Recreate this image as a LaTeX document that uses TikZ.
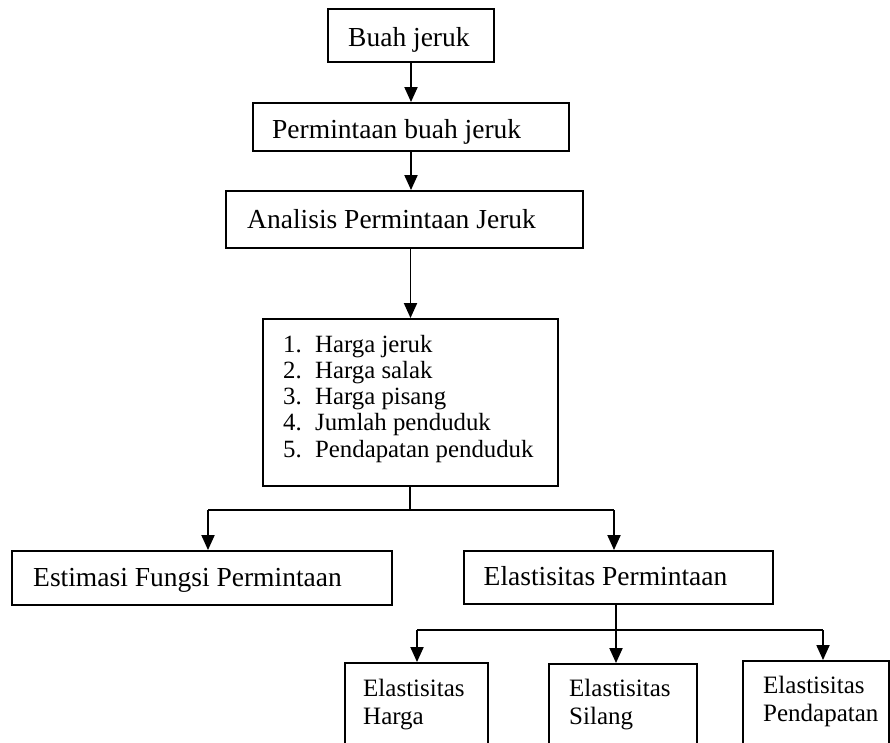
\documentclass[tikz,border=0pt]{standalone}
\usepackage{fontspec}
\setmainfont{Liberation Serif}
\usetikzlibrary{arrows.meta}
\begin{document}
\begin{tikzpicture}[x=1pt,y=-1pt,
  box/.style={draw,line width=1.9pt,rectangle,inner sep=0pt},
  lbl/.style={anchor=base west,inner sep=0pt,font=\fontsize{27.5}{30}\selectfont},
  slbl/.style={anchor=base west,inner sep=0pt},
  conn/.style={line width=1.9pt},
  arr/.style={conn,-{Triangle[width=13pt,length=15pt]}}]
\useasboundingbox (0,0) rectangle (890,742);
\clip (0,0) rectangle (890,742);
% boxes
\node[box,minimum width=166pt,minimum height=53pt] (b1) at (411,35.5) {};
\node[box,minimum width=316pt,minimum height=48pt] (b2) at (411,127) {};
\node[box,minimum width=357pt,minimum height=57pt] (b3) at (404.5,219.5) {};
\node[box,minimum width=295pt,minimum height=167pt] (b4) at (410.5,402.5) {};
\node[box,minimum width=379.5pt,minimum height=54pt] (b5) at (202,578) {};
\node[box,minimum width=309pt,minimum height=53pt] (b6) at (618.5,577.5) {};
\node[box,minimum width=143pt,minimum height=110pt] (b7) at (416.5,718) {};
\node[box,minimum width=148pt,minimum height=110pt] (b8) at (623,719) {};
\node[box,minimum width=146pt,minimum height=110pt] (b9) at (816,716) {};
% texts
\node[lbl] (t1) at (348,46) {Buah jeruk};
\node[lbl] (t2) at (272,138) {Permintaan buah jeruk};
\node[lbl] (t3) at (247,228) {Analisis Permintaan Jeruk};
\node[slbl] (t4) at (283,352) {\fontsize{24.8}{26.25}\selectfont
  \begin{tabular}[t]{@{}p{32pt}@{}l@{}}
  1. & Harga jeruk\\
  2. & Harga salak\\
  3. & Harga pisang\\
  4. & Jumlah penduduk\\
  5. & Pendapatan penduduk
  \end{tabular}};
\node[lbl] (t5) at (33,586) {Estimasi Fungsi Permintaan};
\node[lbl] (t6) at (483.5,585) {Elastisitas Permintaan};
\node[slbl] (t7) at (363,696) {\fontsize{25}{28}\selectfont
  \begin{tabular}[t]{@{}l@{}}Elastisitas\\Harga\end{tabular}};
\node[slbl] (t8) at (569,696) {\fontsize{25}{28}\selectfont
  \begin{tabular}[t]{@{}l@{}}Elastisitas\\Silang\end{tabular}};
\node[slbl] (t9) at (763,693) {\fontsize{25}{28}\selectfont
  \begin{tabular}[t]{@{}l@{}}Elastisitas\\Pendapatan\end{tabular}};
% junction coordinates
\coordinate (j1) at (410,510);
\coordinate (jl) at (208,510);
\coordinate (jr) at (614,510);
\coordinate (k1) at (616,630);
\coordinate (kl) at (417,630);
\coordinate (kr) at (823,630);
% connectors
\draw[arr] (b1.south) -- (b2.north);
\draw[arr] (b2.south) -- (b2.south |- b3.north);
\draw[arr] (b4.north |- b3.south) -- (b4.north);
\draw[conn] (b4.south -| j1) -- (j1);
\draw[conn] (jl) -- (jr);
\draw[arr] (jl) -- (jl |- b5.north);
\draw[arr] (jr) -- (jr |- b6.north);
\draw[conn] (b6.south -| k1) -- (k1);
\draw[conn] (kl) -- (kr);
\draw[arr] (kl) -- (kl |- b7.north);
\draw[arr] (k1) -- (k1 |- b8.north);
\draw[arr] (kr) -- (kr |- b9.north);
\end{tikzpicture}
\end{document}
